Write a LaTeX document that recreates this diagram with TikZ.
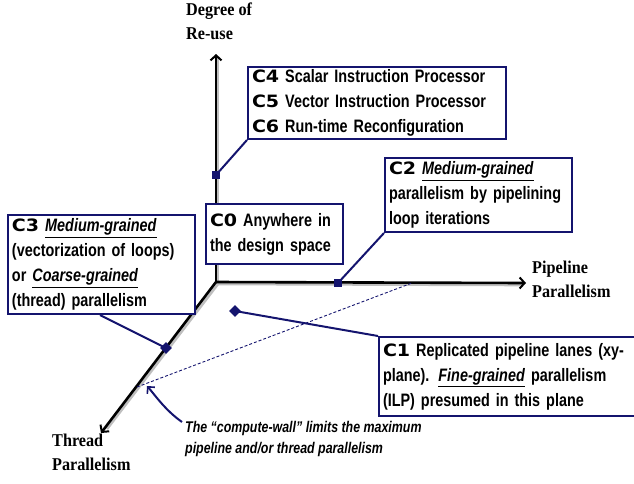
\documentclass[tikz,border=0pt]{standalone}
\usepackage{fontspec}
\setmainfont{Liberation Sans}[FakeStretch=0.8,BoldFont={Liberation Sans Bold},BoldItalicFont={Liberation Sans Bold Italic}]
\newfontfamily\cfont{DejaVu Sans}[FakeStretch=1.12]
\newfontfamily\axfont{Liberation Serif}[FakeStretch=0.9]
\usetikzlibrary{arrows.meta,shapes.geometric}
\definecolor{navy}{RGB}{20,20,110}
\newcommand{\cl}[1]{{\cfont\bfseries\fontsize{17}{25}\selectfont #1}}
\newcommand{\gr}[1]{\underline{\textit{#1}}}
\tikzset{
  box/.style={draw=navy,line width=2pt,fill=white,anchor=north west,
    align=left,inner xsep=4pt,inner ysep=2pt,
    font=\bfseries\fontsize{18}{25}\selectfont},
  axis/.style={line width=2.6pt,black,-{Straight Barb[length=5pt,width=11pt,line width=2pt]}},
  axshadow/.style={line width=2.6pt,black!25},
  axlabel/.style={align=left,anchor=north west,inner sep=0pt,
    font=\axfont\bfseries\fontsize{18}{24}\selectfont},
  conn/.style={draw=navy,line width=2pt},
  sqmark/.style={rectangle,fill=navy,minimum size=8pt,inner sep=0pt},
  dmmark/.style={diamond,fill=navy,minimum size=12pt,inner sep=0pt},
}
\begin{document}
\begin{tikzpicture}[x=1pt,y=-1pt]
\useasboundingbox (0,0) rectangle (634,483);
% axes
\coordinate (O) at (216,282);
\coordinate (Ytip) at (216,54);
\coordinate (Xtip) at (526,283);
\coordinate (Ztip) at (101,433);
\draw[axshadow] ([shift={(2,2)}]O) -- ([shift={(2,2)}]Ytip);
\draw[axshadow] ([shift={(2,2)}]O) -- ([shift={(-4,2)}]Xtip);
\draw[axshadow] ([shift={(2,2)}]O) -- ([shift={(6,-4)}]Ztip);
\draw[axis] (O) -- (Ytip);
\draw[axis] (O) -- (Xtip);
\draw[axis] (O) -- (Ztip);
% axis labels
\node[axlabel] (ly) at (186,3) {Degree of\\Re-use};
\node[axlabel] (lx) at (532,261) {Pipeline\\Parallelism};
\node[axlabel] (lz) at (52,434) {Thread\\Parallelism};
% markers
\node[sqmark] (m4) at (216,175) {};
\node[sqmark] (m2) at (338,283) {};
\node[dmmark] (m3) at (166,348) {};
\node[dmmark] (m1) at (235,311) {};
% dashed compute wall
\coordinate (w1) at (137,387);
\coordinate (w2) at (412,283);
\draw[navy,line width=0.9pt,dash pattern=on 3pt off 2pt] (w1) -- (w2);
% boxes
\node[box,minimum width=258pt,minimum height=72pt,text width=250pt] (c4) at (247,66)
  {\cl{C4} Scalar Instruction Processor\\\cl{C5} Vector Instruction Processor\\\cl{C6} Run-time Reconfiguration};
\node[box,minimum width=137pt,minimum height=60pt,text width=129pt] (c0) at (205,203)
  {\cl{C0} Anywhere in\\the design space};
\node[box,minimum width=187pt,minimum height=74pt,text width=179pt] (c2) at (384,157)
  {\cl{C2} \gr{Medium-grained}\\parallelism by pipelining\\loop iterations};
\node[box,minimum width=187pt,minimum height=99pt,text width=179pt] (c3) at (7,214)
  {\cl{C3} \gr{Medium-grained}\\(vectorization of loops)\\or \gr{Coarse-grained}\\(thread) parallelism};
\node[box,minimum width=270pt,minimum height=79pt,text width=262pt] (c1) at (378,336)
  {\cl{C1} Replicated pipeline lanes (xy-\\plane). \gr{Fine-grained} parallelism\\(ILP) presumed in this plane};
% connectors
\draw[conn] (c4.south west) -- (m4.center);
\draw[conn] (c2.south west) -- (m2.center);
\draw[conn] ([xshift=93pt]c3.south west) -- (m3.center);
\draw[conn] (c1.north west) -- (m1.center);
% annotation
\node[anchor=north west,align=left,inner sep=0pt,
  font=\bfseries\itshape\fontsize{15.5}{21}\selectfont] (note) at (185,421)
  {The “compute-wall” limits the maximum\\pipeline and/or thread parallelism};
\coordinate (ntail) at (182,422);
\draw[navy,line width=2pt,-{Straight Barb[length=5pt,width=10pt,line width=1.6pt]}]
  (ntail) .. controls (165,410) and (155,395) .. (147,386);
\end{tikzpicture}
\end{document}
